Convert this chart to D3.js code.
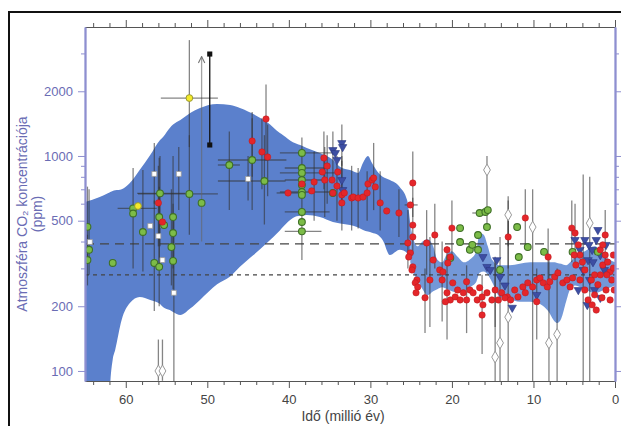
<!DOCTYPE html>
<html><head><meta charset="utf-8">
<script src="https://cdn.jsdelivr.net/npm/d3@7"></script>
<style>body{margin:0;background:#fff}svg{display:block;font-family:"Liberation Sans",Arial,sans-serif}</style>
</head><body><svg id="c" width="621" height="426"></svg>
<script>
// ---- DATA ----  age (Myr), ppm
// uncertainty envelope: [age, lower, upper]
const bandLeft = [
 [65.0,50,611],[63.2,50,644],[62.2,50,670],[61.9,88,680],[61.6,113,688],[61.3,125,692],
 [60.5,173,700],[59.5,207,749],[58.3,221,861],[57.0,214,1011],[55.8,205,1187],[55.4,198,1230],
 [54.6,192,1350],[54.2,188,1400],[53.3,182,1470],[52.1,195,1585],[50.9,214,1672],[48.8,253,1745],
 [47.2,275,1727],[46.0,305,1672],[43.5,369,1503],[42.7,394,1440],[41.1,450,1279],[40.7,468,1250],
 [39.5,515,1160],[38.6,528,1125],[37.8,532,1090],[36.2,520,1033],[34.6,493,960],[33.7,485,889],
 [32.5,477,860],[31.5,465,834],[30.9,453,930],[30.3,445,1000],[29.8,440,928],[29.1,430,843],
 [28.5,407,800],[27.6,346,773],[26.4,366,718],[25.5,354,624],[25.1,328,477]
];
const bandRight = [
 [25.1,320,480],[24.8,290,420],[24.2,265,380],[23.6,240,400],[23.0,225,410],[22.3,235,380],
 [21.8,240,330],[21.2,245,320],[20.6,240,350],[20.0,235,360],[19.3,231,340],[18.5,235,320],
 [17.8,245,330],[17.0,260,360],[16.6,286,438],[16.1,290,430],[15.6,280,380],[15.1,260,330],
 [14.1,220,310],[12.9,215,310],[11.7,210,315],[10.4,210,320],[9.2,205,320],[8.2,190,320],
 [7.4,170,320],[7.1,167,318],[6.6,175,315],[6.0,210,310],[5.5,240,320],[4.9,250,340],
 [3.7,240,360],[2.5,230,380],[1.2,240,340],[0.0,250,320]
];
const refLines = [390, 280];
// points: [age, ppm, errLow, errHigh, ageOld, ageYoung, arrowFlag]
const greenPts = [
 [64.7,468,330,720],[64.5,366,280,700],[64.7,328,250,430],[61.6,318],
 [59.1,570,null,null,61.0,56.2],[59.1,540,300,880],[57.9,443,290,860],[56.5,318,190,620],
 [55.9,305,200,720],[55.9,520,300,980],[55.3,477],[55.8,670,380,1000,58.6,52.7],
 [54.4,377,250,700],[54.2,520,300,1000],[54.2,438],[54.2,325,240,600],
 [52.2,666,430,1250,58.5,48.7],[50.7,605,400,2900,null,null,1],
 [47.3,908,560,1300,48.7,46.0],[44.5,958,560,1500,48.7,40.3],[43.0,765,480,1250,48.7,40.4],
 [38.4,1033,null,null,41.1,34.3],[38.4,879,null,null,40.5,35.0],[38.4,834,null,null,41.1,34.3],
 [38.4,773,null,null,40.5,35.5],[38.4,733],[38.4,680,null,null,41.1,34.3],[38.4,659],
 [38.4,549,null,null,40.5,35.0],[38.4,493],[38.4,446,328,1220,40.5,36.0],[34.6,673],
 [19.0,462],[19.0,398],[20.2,335],[17.8,366],[17.5,386],[16.8,429],[16.8,366],
 [16.6,543,null,null,17.5,15.5],[15.9,549],[15.6,560],[15.7,467],[14.1,295],[12.0,467],
 [11.8,339],[10.7,377],[8.7,358],[5.2,358],[2.1,358]
];
const redPts = [
 [56.0,605,380,900],[55.5,493],[44.5,1174,800,1600],[42.8,1486,950,2150],[43.3,1044,700,1500],
 [42.6,989,650,1400],[40.1,673,null,null,41.5,38.0],[38.4,741],[36.9,757,500,1050],[37.2,688],
 [35.7,979,700,1300],[35.3,898,600,1250],[35.9,843],[35.6,773,520,1100],[34.7,773],
 [34.1,725,500,1000],[34.0,843],[34.6,673],[33.5,659,450,950],[33.2,673],[33.5,605],
 [32.3,638,450,900],[32.1,644],[31.5,638,460,880],[30.9,644],[30.4,673,500,850],[30.3,741],
 [29.8,773],[29.6,790,560,1150],[29.4,718],[28.8,605,450,850],[28.0,555],[26.5,543,420,700],
 [25.1,592,null,null,25.8,24.2],[24.8,749,520,1050],
 [24.8,477,350,640],[24.8,420],[25.4,394,300,560],[25.1,354],[25.3,339],[24.8,305],[24.9,295],
 [24.3,265],[24.5,257],[24.2,246],[24.4,231],[23.3,219,150,300],[23.1,394,280,560],
 [22.1,429,300,600],[22.3,328],[21.5,295],[21.1,289],[22.7,265,160,420],[21.2,265,170,400],
 [20.6,366],[20.2,339],[20.5,318],[20.0,462,330,620],[19.9,257],[20.6,231,140,380],[20.2,214],
 [20.8,210],[19.6,221],[19.3,238],[19.0,214],[18.6,231],[18.2,214,150,310],[17.8,238],
 [17.4,231],[16.9,214],[16.6,244],[16.3,221],[16.2,203],[16.3,182,120,280],[15.7,231],
 [15.1,214],[14.7,238,160,340],[14.3,214],[13.9,231],[13.2,221],[13.1,420,300,560],[18.2,260],
 [13.5,219],[12.8,214],[12.3,238],[11.9,221],[11.3,246],[11.0,231],[10.7,257],[10.1,246],
 [9.6,265],[9.6,210,140,300],[9.2,271],[8.8,257],[8.3,246],[8.0,260],[7.4,274],[7.0,286],
 [8.2,339,240,460],[6.4,257],[5.9,265],[5.5,246],[5.2,271],[11.0,515,380,700],
 [5.3,462,320,620],[1.2,429,300,560],[4.9,438,310,600],
 [4.5,386],[4.3,346],[4.0,321],[3.7,295],[4.3,265],[3.7,238],[3.3,214],[2.8,203],[2.5,226],
 [2.1,252],[1.8,280],[1.5,311],[1.2,346],[0.9,321],[0.6,289],[0.4,265],[0.1,238],[1.1,238],
 [1.6,219],[2.3,192],[0.6,214],[0.2,346],[1.8,366],[2.9,265],[4.8,311],[5.0,346],[2.5,280],
 [1.0,280],[0.2,301],[1.5,386]
];
const bluePts = [
 [34.6,1066,800,1300],[34.1,958],[33.5,1149,900,1400],[33.4,1101],[34.3,1033],
 [33.5,773,600,1000],[33.4,695],
 [16.2,339],[15.7,305],[15.3,295],[14.5,328],[14.1,274],[13.5,250],[12.6,197],[9.6,226],
 [3.9,295,89,820],[4.9,407],[4.3,366],[3.7,407],[3.3,328],[2.8,366],[2.3,407],[1.8,346],
 [3.1,265],[2.5,238],[1.8,219],[3.4,203],[4.5,238],[1.3,295],[2.1,453],[2.7,321],[1.1,386],
 [3.2,386]
];
const whitePts = [
 [64.4,398],[57.0,473],[56.5,825,600,1150],[53.5,825,560,1100],[56.0,424],[55.5,328],
 [55.4,477],[54.1,231,89,500],[45.0,782,620,1000]
];
const openDiamonds = [
 [56.0,100,90,140],[55.5,100,90,140],[15.7,861,480,1000],[14.7,116,89,330],[14.1,135,89,420],
 [13.1,178,89,620],[13.1,532,380,650],[10.1,467,89,700],[8.1,135,89,330],[7.1,148,89,300],
 [3.1,487,89,800]
];
const yellowPts = [[52.2,1860,1100,3460,55.7,48.7],[58.5,585]];
const blackPts = [[49.7,2980,1125,2980],[49.7,1125]];
const ageMajor = [0,10,20,30,40,50,60];
const ageMinor = [2,4,6,8,12,14,16,18,22,24,26,28,32,34,36,38,42,44,46,48,52,54,56,58,62,64];
const ppmMajor = [100,200,500,1000,2000];
const ppmMinor = [300,400,600,700,800,900,3000];

// ---- CHART ----
const L=85,R=615,T=27,B=381;
const svg = d3.select('#c');
const x = d3.scaleLinear().domain([65,0]).range([L,R]);
const y = d3.scaleLog().domain([89.8,3981]).range([B,T]);

svg.append('rect').attr('x',9).attr('y',12).attr('width',640).attr('height',440)
  .attr('fill','none').attr('stroke','#111').attr('stroke-width',2);
const defs = svg.append('defs');
defs.append('clipPath').attr('id','clip').append('rect').attr('x',L).attr('y',T).attr('width',R-L).attr('height',B-T);
defs.append('marker').attr('id','arr').attr('viewBox','0 0 10 10').attr('refX',9).attr('refY',5)
  .attr('markerUnits','userSpaceOnUse').attr('markerWidth',8).attr('markerHeight',8).attr('orient','auto')
  .append('path').attr('d','M1,1 L9,5 L1,9').attr('fill','none').attr('stroke','#777').attr('stroke-width',1.4);

const g = svg.append('g').attr('clip-path','url(#clip)');
const area = d3.area().x(d=>x(d[0])).y0(d=>y(d[1])).y1(d=>y(d[2])).curve(d3.curveMonotoneX);
g.append('path').datum(bandLeft).attr('d',area).attr('fill','#5b80cc');
g.append('path').datum(bandRight).attr('d',area).attr('fill','#7398d8');

g.selectAll('line.ref').data(refLines).join('line').attr('class','ref')
  .attr('x1',x(65)).attr('x2',x(0)).attr('y1',d=>y(d)).attr('y2',d=>y(d))
  .attr('stroke','#444').attr('stroke-width',1.3)
  .attr('stroke-dasharray',(d,i)=>i===0?'9,6':'4,4');

const allSeries = [greenPts,redPts,bluePts,whitePts,openDiamonds,yellowPts,blackPts];
const eb = g.append('g');
allSeries.forEach((s,si)=>{
  s.forEach(d=>{
    if(d[2]!=null){
      const ln = eb.append('line').attr('x1',x(d[0])).attr('x2',x(d[0]))
        .attr('y1',y(d[2])).attr('y2',y(d[3]))
        .attr('stroke',si===6?'#111':'#333').attr('stroke-opacity',si===6?1:0.6).attr('stroke-width',1.3);
      if(d[6]===1) ln.attr('marker-end','url(#arr)').attr('stroke','#666');
    }
    if(d[4]!=null){
      eb.append('line').attr('x1',x(d[4])).attr('x2',x(d[5])).attr('y1',y(d[1])).attr('y2',y(d[1]))
        .attr('stroke','#333').attr('stroke-opacity',0.6).attr('stroke-width',1.3);
    }
  });
});

const pts = g.append('g');
const sym = (type,size)=>d3.symbol().type(type).size(size)();
pts.selectAll('path.wh').data(whitePts).join('path').attr('class','wh')
  .attr('transform',d=>`translate(${x(d[0])},${y(d[1])})`).attr('d',sym(d3.symbolSquare,24))
  .attr('fill','#fff').attr('stroke','#999').attr('stroke-width',0.8);
pts.selectAll('path.od').data(openDiamonds).join('path').attr('class','od')
  .attr('transform',d=>`translate(${x(d[0])},${y(d[1])})`).attr('d',sym(d3.symbolDiamond,40))
  .attr('fill','#fff').attr('stroke','#999').attr('stroke-width',1);
pts.selectAll('path.bl').data(bluePts).join('path').attr('class','bl')
  .attr('transform',d=>`translate(${x(d[0])},${y(d[1])}) rotate(180)`).attr('d',sym(d3.symbolTriangle,30))
  .attr('fill','#3d4ea3').attr('stroke','#2a3580').attr('stroke-width',0.6);
pts.selectAll('circle.gr').data(greenPts).join('circle').attr('class','gr')
  .attr('cx',d=>x(d[0])).attr('cy',d=>y(d[1])).attr('r',3.4)
  .attr('fill','#7cbc48').attr('stroke','#3f7027').attr('stroke-width',1.1);
pts.selectAll('circle.rd').data(redPts).join('circle').attr('class','rd')
  .attr('cx',d=>x(d[0])).attr('cy',d=>y(d[1])).attr('r',3.2)
  .attr('fill','#e4262a').attr('stroke','#b81a1e').attr('stroke-width',0.5);
pts.selectAll('circle.ye').data(yellowPts).join('circle').attr('class','ye')
  .attr('cx',d=>x(d[0])).attr('cy',d=>y(d[1])).attr('r',3.4)
  .attr('fill','#f4ea2a').attr('stroke','#9a9a30').attr('stroke-width',1);
pts.selectAll('path.bk').data(blackPts).join('path').attr('class','bk')
  .attr('transform',d=>`translate(${x(d[0])},${y(d[1])})`).attr('d',sym(d3.symbolSquare,26))
  .attr('fill','#111');

// axes
const gray='#555', lav='#8e8fd0', lab='#6a6cb4';
function styleAxis(sel,col){ sel.selectAll('line').attr('stroke',col); sel.selectAll('path').attr('stroke',col); }
const bMin = svg.append('g').attr('transform',`translate(0,${B})`)
  .call(d3.axisBottom(x).tickValues(ageMinor).tickSize(4).tickSizeOuter(0).tickFormat(''));
const bMaj = svg.append('g').attr('transform',`translate(0,${B})`)
  .call(d3.axisBottom(x).tickValues(ageMajor).tickSize(7).tickSizeOuter(0).tickPadding(7).tickFormat(d3.format('d')));
[bMin,bMaj].forEach(a=>{styleAxis(a,gray);a.selectAll('path').attr('stroke-width',1.2);});
bMaj.selectAll('text').attr('font-size',13).attr('fill','#444').attr('font-family','"Liberation Sans",Arial,sans-serif');
const tMin = svg.append('g').attr('transform',`translate(0,${T})`)
  .call(d3.axisTop(x).tickValues(ageMinor).tickSize(4).tickSizeOuter(0).tickFormat(''));
const tMaj = svg.append('g').attr('transform',`translate(0,${T})`)
  .call(d3.axisTop(x).tickValues(ageMajor).tickSize(7).tickSizeOuter(0).tickFormat(''));
[tMin,tMaj].forEach(a=>{styleAxis(a,gray);a.selectAll('path').attr('stroke-width',1.2);});

const lMin = svg.append('g').attr('transform',`translate(${L},0)`)
  .call(d3.axisLeft(y).tickValues(ppmMinor).tickSize(4).tickSizeOuter(0).tickFormat(''));
const lMaj = svg.append('g').attr('transform',`translate(${L},0)`)
  .call(d3.axisLeft(y).tickValues(ppmMajor).tickSize(7).tickSizeOuter(0).tickPadding(5).tickFormat(d3.format('d')));
const rMin = svg.append('g').attr('transform',`translate(${R},0)`)
  .call(d3.axisRight(y).tickValues(ppmMinor).tickSize(4).tickSizeOuter(0).tickFormat(''));
const rMaj = svg.append('g').attr('transform',`translate(${R},0)`)
  .call(d3.axisRight(y).tickValues(ppmMajor).tickSize(7).tickSizeOuter(0).tickFormat(''));
[lMin,lMaj,rMin,rMaj].forEach(a=>{styleAxis(a,lav);a.selectAll('path').attr('stroke-width',1.8);});
lMaj.selectAll('text').attr('font-size',13).attr('fill',lab).attr('font-family','"Liberation Sans",Arial,sans-serif');

// titles
svg.append('text').attr('x',343).attr('y',421).attr('text-anchor','middle')
  .attr('font-size',14).attr('fill','#444').text('Idő (millió év)');
const yt = svg.append('g').attr('transform','translate(27,214) rotate(-90)');
yt.append('text').attr('text-anchor','middle').attr('font-size',14).attr('fill',lab)
  .text('Atmoszféra CO₂ koncentrációja');
yt.append('text').attr('y',15).attr('text-anchor','middle').attr('font-size',14).attr('fill',lab)
  .text('(ppm)');
</script></body></html>
